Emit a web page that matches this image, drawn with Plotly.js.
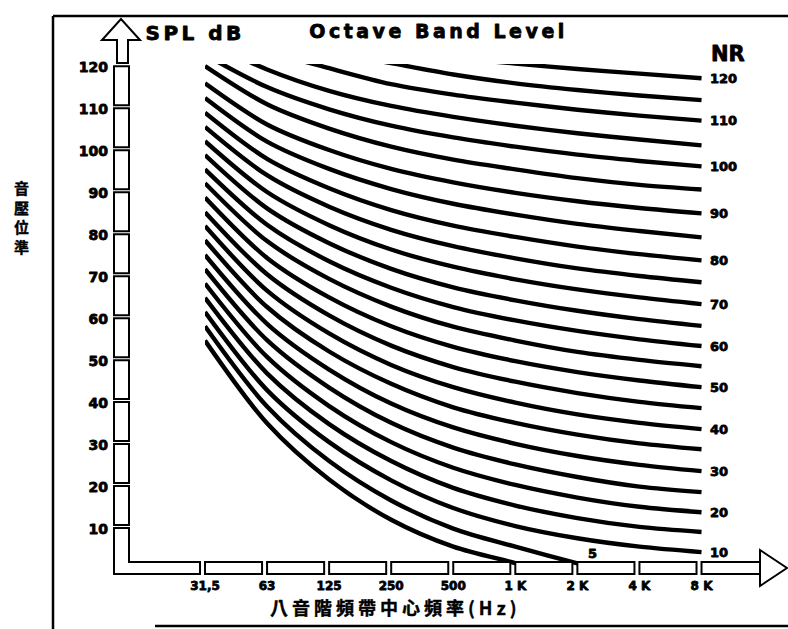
<!DOCTYPE html>
<html><head><meta charset="utf-8">
<script src="https://cdn.plot.ly/plotly-3.0.1.min.js"></script>
<style>html,body{margin:0;padding:0;background:#fff}#chart{width:788px;height:629px}</style>
</head><body><div id="chart"></div>
<script>
// Octave band centre frequencies (tick labels)
const freqLabels = ['31,5','63','125','250','500','1 K','2 K','4 K','8 K'];
// Y axis tick values
const yTicks = [10,20,30,40,50,60,70,80,90,100,110,120];
// NR curve levels (dB) at each octave band
const nr0   = [54.9, 35.2, 21.8, 12.2, 5.8, 1.9, -2.0, -6.1, -8.0];
const nr5   = [58.3, 39.2, 26.2, 16.8, 10.1, 5.8, 1.8, -2.0, -5.0];
const nr10  = [61.7, 43.1, 30.7, 21.6, 15.0, 10.7, 7.8, 5.8, 4.5];
const nr15  = [65.1, 47.1, 35.0, 26.2, 19.8, 15.6, 12.6, 10.5, 9.3];
const nr20  = [68.5, 51.0, 39.3, 30.7, 24.6, 20.5, 17.5, 15.3, 14.0];
const nr25  = [71.9, 55.0, 43.7, 35.3, 29.4, 25.4, 22.4, 20.1, 18.8];
const nr30  = [75.3, 58.9, 48.0, 39.9, 34.2, 30.3, 27.4, 25.3, 23.8];
const nr35  = [78.8, 62.9, 52.3, 44.6, 39.0, 35.3, 32.5, 30.4, 29.0];
const nr40  = [82.2, 66.8, 56.6, 49.1, 43.8, 40.1, 37.3, 35.3, 33.8];
const nr45  = [85.5, 70.7, 60.9, 53.7, 48.6, 45.1, 42.4, 40.3, 38.8];
const nr50  = [89.0, 74.6, 65.2, 58.3, 53.4, 50.0, 47.4, 45.4, 43.8];
const nr55  = [92.4, 78.6, 69.6, 63.0, 58.2, 54.9, 52.2, 50.3, 48.8];
const nr60  = [95.7, 82.5, 73.8, 67.5, 62.9, 59.7, 57.2, 55.2, 53.6];
const nr65  = [99.1, 86.4, 78.1, 72.0, 67.6, 64.5, 62.0, 60.0, 58.4];
const nr70  = [102.4, 90.3, 82.4, 76.6, 72.5, 69.5, 67.1, 65.2, 63.6];
const nr75  = [105.8, 94.3, 86.8, 81.3, 77.4, 74.5, 72.1, 70.3, 68.8];
const nr80  = [109.2, 98.2, 91.2, 86.0, 82.3, 79.6, 77.3, 75.5, 74.0];
const nr85  = [112.7, 102.3, 95.8, 91.0, 87.5, 84.9, 82.7, 81.0, 79.5];
const nr90  = [116.2, 106.4, 100.3, 95.8, 92.6, 90.1, 88.1, 86.5, 85.2];
const nr95  = [120.3, 111.2, 105.4, 101.1, 98.0, 95.7, 93.6, 92.0, 90.9];
const nr100 = [123.0, 115.3, 110.0, 106.1, 103.3, 101.1, 99.2, 97.7, 96.4];
const nr105 = [126.4, 119.5, 114.4, 110.8, 108.2, 106.1, 104.3, 102.8, 101.4];
const nr110 = [130.0, 124.0, 119.8, 116.0, 113.5, 111.6, 109.9, 108.5, 107.3];
const nr115 = [133.0, 127.5, 123.8, 121.0, 118.3, 116.2, 114.6, 113.3, 112.2];
const nr120 = [136.6, 130.1, 126.5, 124.0, 122.3, 120.9, 119.6, 118.5, 117.4];
const nrNames = [0,5,10,15,20,25,30,35,40,45,50,55,60,65,70,75,80,85,90,95,100,105,110,115,120];
const nrCurves = [nr0,nr5,nr10,nr15,nr20,nr25,nr30,nr35,nr40,nr45,nr50,nr55,nr60,nr65,nr70,nr75,nr80,nr85,nr90,nr95,nr100,nr105,nr110,nr115,nr120];
// Curves labelled at the right end
const labelledNR = [10,20,30,40,50,60,70,80,90,100,110,120];

// ---- layout geometry (pixels) ----
const L = 205, R = 84, T = 64, B = 58, FW = 788, FH = 629;
const W = FW - L - R, H = FH - T - B;
const XMAX = 8.04, YMAX = 120.8;
const fx = p => (p - L) / W;          // pixel x -> paper
const fy = p => (FH - B - p) / H;     // pixel y -> paper
const dbPx = v => FH - B - v / YMAX * H;
const idxPx = i => L + i / XMAX * W;
const FONT = 'DejaVu Sans';

const xIdx = freqLabels.map((_, i) => i);
const traces = nrCurves.map((c, k) => ({
  x: xIdx, y: c, type: 'scatter', mode: 'lines', name: 'NR ' + nrNames[k],
  line: {color: '#000', width: 4.4, shape: 'spline', smoothing: 0.9},
  hoverinfo: 'skip'
}));

const shapes = [];
const blk = {color: '#000', width: 2};
// frame lines
shapes.push({type:'line', xref:'paper', yref:'paper', x0:fx(53), x1:fx(53), y0:fy(16), y1:fy(629), line:{color:'#000', width:2.5}});
shapes.push({type:'line', xref:'paper', yref:'paper', x0:fx(53), x1:fx(788), y0:fy(16), y1:fy(16), line:{color:'#000', width:2.5}});
shapes.push({type:'line', xref:'paper', yref:'paper', x0:fx(155), x1:fx(788), y0:fy(626), y1:fy(626), line:{color:'#000', width:2.5}});
// y ruler segments
yTicks.slice(0, -1).forEach(v => {
  shapes.push({type:'rect', xref:'paper', yref:'paper', layer:'above',
    x0:fx(114), x1:fx(129), y0:fy(dbPx(v + 10) - 1), y1:fy(dbPx(v) - 4),
    line:blk, fillcolor:'#fff'});
});
// L corner piece
const yTop10 = dbPx(10) - 1;
const Lpath = `M${fx(114)},${fy(yTop10)} L${fx(114)},${fy(574)} L${fx(idxPx(0)-5)},${fy(574)} L${fx(idxPx(0)-5)},${fy(562)} L${fx(129)},${fy(562)} L${fx(129)},${fy(yTop10)} Z`;
shapes.push({type:'path', xref:'paper', yref:'paper', layer:'above', path:Lpath, line:blk, fillcolor:'#fff'});
// x ruler segments
for (let i = 0; i < freqLabels.length - 1; i++) {
  shapes.push({type:'rect', xref:'paper', yref:'paper', layer:'above',
    x0:fx(idxPx(i)), x1:fx(idxPx(i + 1) - 5), y0:fy(562), y1:fy(574), line:blk, fillcolor:'#fff'});
}
shapes.push({type:'rect', xref:'paper', yref:'paper', layer:'above',
  x0:fx(idxPx(8)), x1:fx(760), y0:fy(562), y1:fy(574), line:blk, fillcolor:'#fff'});
// right arrow head
shapes.push({type:'path', xref:'paper', yref:'paper', layer:'above',
  path:`M${fx(760)},${fy(550)} L${fx(787)},${fy(568)} L${fx(760)},${fy(586)} Z`, line:blk, fillcolor:'#fff'});
// top arrow
shapes.push({type:'path', xref:'paper', yref:'paper', layer:'above',
  path:`M${fx(117)},${fy(63)} L${fx(117)},${fy(40)} L${fx(102)},${fy(40)} L${fx(121)},${fy(19)} L${fx(140)},${fy(40)} L${fx(128)},${fy(40)} L${fx(128)},${fy(63)} Z`,
  line:blk, fillcolor:'#fff'});

const annotations = [];
annotations.push({text:'SPL dB', xref:'paper', yref:'paper', x:fx(195), y:fy(33), xanchor:'center', yanchor:'middle', showarrow:false,
  font:{family:FONT, size:20, weight:'bold', color:'#000'}});
annotations.push({text:'Octave Band Level', xref:'paper', yref:'paper', x:fx(438), y:fy(31), xanchor:'center', yanchor:'middle', showarrow:false,
  font:{family:FONT, size:19, weight:'bold', color:'#000'}});
annotations.push({text:'NR', xref:'paper', yref:'paper', x:fx(709), y:fy(54), xanchor:'left', yanchor:'middle', showarrow:false,
  font:{family:FONT, size:21, weight:'bold', color:'#000'}});
labelledNR.forEach(n => {
  const c = nrCurves[nrNames.indexOf(n)];
  annotations.push({text:String(n), x:8, y:c[8], xref:'x', yref:'y', xanchor:'left', yanchor:'middle', xshift:6,
    showarrow:false, font:{family:FONT, size:13, weight:'bold', color:'#000'}});
});
annotations.push({text:'5', x:6.25, y:nr5[5] - 1.6, xref:'x', yref:'y', xanchor:'center', yanchor:'middle', showarrow:false,
  font:{family:FONT, size:13, weight:'bold', color:'#000'}});
annotations.push({text:'八音階頻帶中心頻率(Hz)', xref:'paper', yref:'paper', x:fx(395), y:fy(607), xanchor:'center', yanchor:'middle', showarrow:false,
  font:{family:'Noto Sans CJK TC', size:18, weight:'bold', color:'#000'}});
annotations.push({text:'音<br>壓<br>位<br>準', xref:'paper', yref:'paper', x:fx(21), y:fy(217), xanchor:'center', yanchor:'middle', showarrow:false,
  font:{family:'Noto Sans CJK TC', size:15, weight:'bold', color:'#000'}});

const layout = {
  width: FW, height: FH, margin: {l:L, r:R, t:T, b:B, pad:0},
  paper_bgcolor:'#fff', plot_bgcolor:'#fff', showlegend:false,
  xaxis: {range:[0, XMAX], tickvals:xIdx, ticktext:freqLabels, showgrid:false, zeroline:false, showline:false,
    ticks:'', ticklabelstandoff:6, tickfont:{family:FONT, size:12, weight:'bold', color:'#000'}, fixedrange:true},
  yaxis: {range:[0, YMAX], tickvals:yTicks, ticktext:yTicks.map(String), showgrid:false, zeroline:false, showline:false,
    ticks:'', ticklabelstandoff:96, tickfont:{family:FONT, size:14, weight:'bold', color:'#000'}, fixedrange:true},
  shapes, annotations
};

Plotly.newPlot('chart', traces, layout, {staticPlot:true, displayModeBar:false}).then(gd => {
  const sp = {'SPL dB':'3.5px', 'Octave Band Level':'3.5px', '八音階頻帶中心頻率(Hz)':'4px'};
  gd.querySelectorAll('.annotation-text').forEach(t => {
    const s = sp[t.textContent];
    if (s) t.style.letterSpacing = s;
  });
  // heavier glyphs, like the printed original
  gd.querySelectorAll('.xtick text, .ytick text, .annotation-text').forEach(t => {
    const cjk = /[\u4e00-\u9fff]/.test(t.textContent);
    t.style.stroke = '#000';
    t.style.strokeWidth = cjk ? '0.4px' : '0.8px';
    t.style.strokeLinejoin = 'round';
  });
});
</script>
</body></html>
